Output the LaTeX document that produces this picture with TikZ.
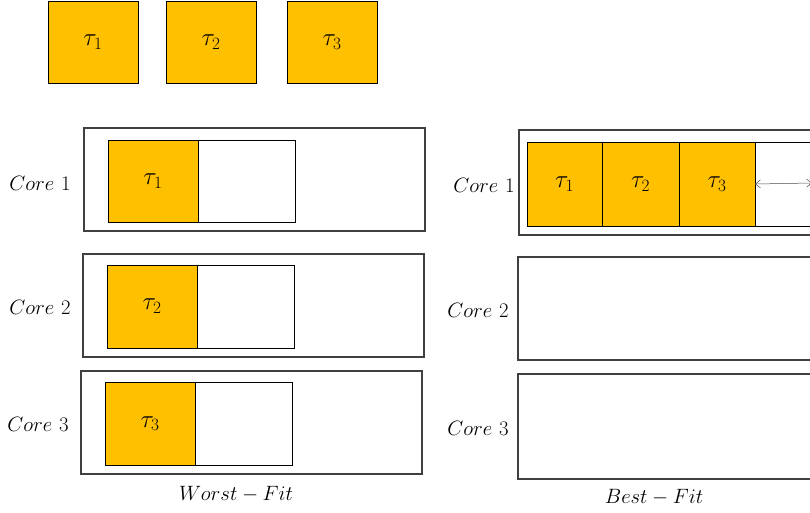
\documentclass[tikz,border=0pt]{standalone}
\usetikzlibrary{arrows.meta}
\definecolor{taskorange}{HTML}{FFC000}
\definecolor{frame}{HTML}{404040}
\begin{document}
\begin{tikzpicture}[x=1pt,y=-1pt,
  box/.style={draw=black,line width=0.9pt,inner sep=0,outer sep=0,anchor=north west},
  task/.style={box,fill=taskorange,font=\fontsize{25}{30}\selectfont},
  slot/.style={box,fill=white},
  core/.style={draw=frame,line width=1.1pt,inner sep=0,outer sep=0,anchor=north west,fill=white},
  lbl/.style={font=\fontsize{22.5}{27}\selectfont}]
\useasboundingbox (0,0) rectangle (810,512);
\clip (0,0) rectangle (810,512);
% top tasks
\node[task,minimum width=90,minimum height=82] (t1) at (48,1) {$\tau_1$};
\node[task,minimum width=90,minimum height=82] (t2) at (166,1) {$\tau_2$};
\node[task,minimum width=90,minimum height=82] (t3) at (287,1) {$\tau_3$};
% Worst-fit
\node[core,minimum width=341,minimum height=103] (w1) at (84,128) {};
\node[slot,minimum width=187,minimum height=82] (w1s) at (108,140) {};
\node[task,minimum width=90,minimum height=82] (w1t) at (108,140) {$\tau_1$};
\node[lbl] (lw1) at (40,183) {$Core\ 1$};

\node[core,minimum width=341,minimum height=103] (w2) at (83,254) {};
\node[slot,minimum width=187,minimum height=83] (w2s) at (107,265) {};
\node[task,minimum width=90,minimum height=83] (w2t) at (107,265) {$\tau_2$};
\node[lbl] (lw2) at (40,307) {$Core\ 2$};

\node[core,minimum width=341,minimum height=103] (w3) at (81,371) {};
\node[slot,minimum width=187,minimum height=83] (w3s) at (105,382) {};
\node[task,minimum width=90,minimum height=83] (w3t) at (105,382) {$\tau_3$};
\node[lbl] (lw3) at (38,424) {$Core\ 3$};

\node[lbl] (wf) at (236,494) {$Worst-Fit$};

% Best-fit
\node[core,minimum width=310,minimum height=105] (b1) at (519,130) {};
\node[slot,minimum width=300,minimum height=84] (b1s) at (527,142) {};
\node[task,minimum width=75,minimum height=84] (b1a) at (527,142) {$\tau_1$};
\node[task,minimum width=77,minimum height=84] (b1b) at (602,142) {$\tau_2$};
\node[task,minimum width=76,minimum height=84] (b1c) at (679,142) {$\tau_3$};
\coordinate (arrEnd) at (812,183);
\draw[{Straight Barb[length=5pt,width=8pt]}-{Straight Barb[length=5pt,width=8pt]},line width=0.5pt,draw=black!70] (b1c.east) -- (arrEnd);
\node[lbl] (lb1) at (484,185) {$Core\ 1$};

\node[core,minimum width=310,minimum height=103] (b2) at (518,257) {};
\node[lbl] (lb2) at (478,310) {$Core\ 2$};

\node[core,minimum width=310,minimum height=105] (b3) at (518,374) {};
\node[lbl] (lb3) at (478,428) {$Core\ 3$};

\node[lbl] (bf) at (654,497) {$Best-Fit$};
\end{tikzpicture}
\end{document}
